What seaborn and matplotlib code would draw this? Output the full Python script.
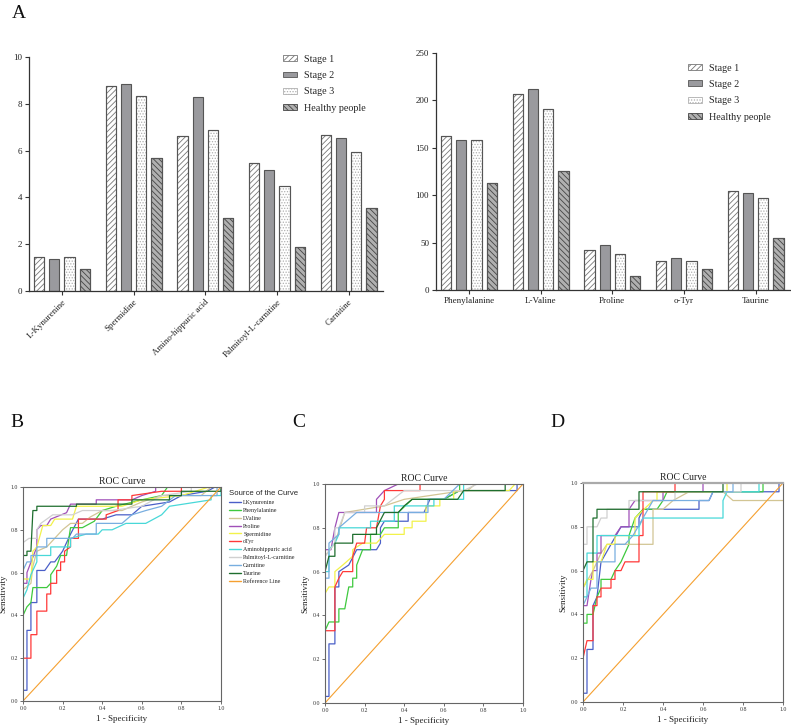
import numpy as np
import pandas as pd
import matplotlib
matplotlib.use("Agg")
import matplotlib.pyplot as plt
import matplotlib.patches as mpatches
import matplotlib.lines as mlines
import seaborn as sns

# ---------------- data: panel A ----------------
groups = ["Stage 1", "Stage 2", "Stage 3", "Healthy people"]
left_metabolites = ["L-Kynurenine", "Spermidine", "Amino-hippuric acid",
                    "Palmitoyl-L-carnitine", "Carnitine"]
left_stage1 = [1.45, 8.78, 6.62, 5.45, 6.65]
left_stage2 = [1.38, 8.83, 8.28, 5.15, 6.55]
left_stage3 = [1.47, 8.35, 6.88, 4.48, 5.92]
left_healthy = [0.93, 5.67, 3.10, 1.86, 3.55]
left_yticks = [0, 2, 4, 6, 8, 10]

right_metabolites = ["Phenylalanine", "L-Valine", "Proline", "o-Tyr", "Taurine"]
right_stage1 = [162, 207, 42, 31, 104]
right_stage2 = [158, 212, 47, 34, 102]
right_stage3 = [158, 191, 38, 31, 97]
right_healthy = [113, 126, 15, 22, 55]
right_yticks = [0, 50, 100, 150, 200, 250]

# ---------------- data: ROC curves (1-specificity, sensitivity) ----------------
curve_names = ["LKynurenine", "Phenylalanine", "LValine", "Proline", "Spermidine",
               "oTyr", "Aminohippuric acid", "Palmitoyl-L-carnitine", "Carnitine", "Taurine"]
roc_ticks = [0.0, 0.2, 0.4, 0.6, 0.8, 1.0]

# Panel B
B_KYN = [(0,0),(0,0.05),(0.02,0.05),(0.02,0.33),(0.04,0.33),(0.04,0.46),(0.07,0.46),(0.07,0.61),(0.11,0.61),(0.14,0.65),(0.16,0.65),(0.2,0.7),(0.24,0.78),(0.28,0.85),(0.4,0.85),(0.47,0.87),(0.55,0.87),(0.6,0.91),(0.74,0.93),(0.8,0.96),(0.93,0.98),(0.97,1),(1,1)]
B_PHE = [(0,0),(0,0.4),(0.02,0.44),(0.04,0.46),(0.05,0.53),(0.12,0.53),(0.14,0.55),(0.14,0.59),(0.17,0.63),(0.19,0.68),(0.22,0.68),(0.23,0.75),(0.24,0.81),(0.3,0.81),(0.36,0.84),(0.4,0.89),(0.47,0.91),(0.6,0.94),(0.7,0.96),(0.73,1),(1,1)]
B_VAL = [(0,0),(0,0.52),(0.04,0.55),(0.05,0.63),(0.07,0.70),(0.12,0.72),(0.14,0.74),(0.2,0.8),(0.24,0.83),(0.3,0.83),(0.34,0.86),(0.4,0.89),(0.5,0.89),(0.6,0.93),(0.7,0.96),(0.9,0.96),(0.95,1),(1,1)]
B_PRO = [(0,0),(0,0.55),(0.02,0.55),(0.02,0.6),(0.07,0.72),(0.07,0.8),(0.09,0.82),(0.12,0.82),(0.14,0.85),(0.22,0.88),(0.24,0.92),(0.37,0.92),(0.37,0.94),(0.55,0.94),(0.6,0.96),(0.67,0.98),(0.67,1),(1,1)]
B_SPE = [(0,0),(0,0.57),(0.04,0.57),(0.05,0.70),(0.07,0.72),(0.1,0.82),(0.14,0.82),(0.16,0.85),(0.25,0.85),(0.27,0.91),(0.5,0.91),(0.6,0.94),(0.8,0.96),(0.87,0.98),(0.94,1),(1,1)]
B_TYR = [(0,0),(0,0.2),(0.04,0.2),(0.04,0.31),(0.07,0.31),(0.07,0.42),(0.12,0.42),(0.12,0.5),(0.14,0.5),(0.14,0.55),(0.17,0.55),(0.17,0.61),(0.19,0.61),(0.19,0.65),(0.21,0.65),(0.21,0.7),(0.24,0.72),(0.24,0.76),(0.28,0.76),(0.28,0.85),(0.42,0.85),(0.42,0.87),(0.48,0.89),(0.48,0.94),(0.55,0.94),(0.55,0.96),(0.7,0.98),(0.8,0.98),(0.8,1),(1,1)]
B_AMI = [(0,0),(0,0.48),(0.02,0.52),(0.04,0.59),(0.07,0.65),(0.07,0.68),(0.14,0.68),(0.14,0.72),(0.24,0.72),(0.24,0.76),(0.32,0.78),(0.38,0.78),(0.4,0.8),(0.45,0.8),(0.52,0.83),(0.62,0.83),(0.7,0.87),(0.74,0.91),(0.95,0.94),(0.95,0.96),(1,0.96),(1,1)]
B_PAL = [(0,0),(0,0.74),(0.03,0.76),(0.07,0.76),(0.07,0.80),(0.09,0.83),(0.12,0.85),(0.15,0.87),(0.25,0.87),(0.3,0.89),(0.45,0.89),(0.6,0.91),(0.7,0.96),(0.85,0.98),(0.85,1),(1,1)]
B_CAR = [(0,0),(0,0.61),(0.02,0.65),(0.04,0.65),(0.04,0.68),(0.07,0.68),(0.07,0.72),(0.12,0.72),(0.12,0.76),(0.25,0.76),(0.27,0.78),(0.37,0.78),(0.37,0.83),(0.5,0.83),(0.55,0.87),(0.62,0.89),(0.7,0.91),(0.77,0.96),(0.98,0.96),(0.98,1),(1,1)]
B_TAU = [(0,0),(0,0.68),(0.02,0.68),(0.02,0.70),(0.04,0.70),(0.05,0.89),(0.07,0.89),(0.07,0.91),(0.27,0.91),(0.27,0.92),(0.55,0.92),(0.55,0.94),(0.74,0.94),(0.74,0.96),(0.80,0.96),(0.80,0.98),(1,0.98),(1,1)]

# Panel C
C_KYN = [(0,0),(0,0.03),(0.02,0.03),(0.02,0.27),(0.05,0.27),(0.05,0.53),(0.07,0.53),(0.07,0.6),(0.12,0.63),(0.16,0.7),(0.26,0.7),(0.28,0.73),(0.28,0.8),(0.3,0.83),(0.42,0.83),(0.42,0.87),(0.5,0.87),(0.53,0.93),(0.6,0.93),(0.68,0.97),(0.97,0.97),(0.97,1),(1,1)]
C_PHE = [(0,0),(0,0.33),(0.02,0.37),(0.07,0.37),(0.07,0.43),(0.1,0.43),(0.12,0.53),(0.14,0.53),(0.14,0.57),(0.16,0.57),(0.16,0.63),(0.19,0.7),(0.23,0.7),(0.23,0.77),(0.28,0.77),(0.3,0.8),(0.37,0.8),(0.37,0.87),(0.44,0.93),(0.6,0.93),(0.68,0.97),(0.68,1),(1,1)]
C_VAL = [(0,0),(0,0.67),(0.05,0.73),(0.1,0.87),(0.3,0.9),(0.4,0.93),(0.7,0.97),(0.72,0.97),(0.76,1),(1,1)]
C_PRO = [(0,0),(0,0.70),(0.03,0.70),(0.05,0.80),(0.07,0.87),(0.12,0.87),(0.26,0.87),(0.26,0.93),(0.3,0.97),(0.37,1),(1,1)]
C_SPE = [(0,0),(0,0.5),(0.02,0.53),(0.05,0.53),(0.05,0.6),(0.09,0.63),(0.14,0.67),(0.14,0.7),(0.19,0.73),(0.26,0.73),(0.3,0.77),(0.4,0.77),(0.4,0.8),(0.44,0.8),(0.44,0.83),(0.51,0.83),(0.51,0.9),(0.58,0.9),(0.58,0.93),(0.65,0.93),(0.65,0.97),(0.93,0.97),(0.96,1),(1,1)]
C_TYR = [(0,0),(0,0.33),(0.05,0.33),(0.05,0.53),(0.07,0.57),(0.09,0.6),(0.14,0.6),(0.14,0.67),(0.16,0.73),(0.2,0.73),(0.21,0.8),(0.26,0.8),(0.28,0.9),(0.3,0.93),(0.3,0.97),(0.48,0.97),(0.48,1),(1,1)]
C_AMI = [(0,0),(0,0.6),(0.02,0.6),(0.02,0.7),(0.05,0.73),(0.07,0.77),(0.07,0.8),(0.23,0.8),(0.23,0.83),(0.35,0.83),(0.35,0.9),(0.55,0.9),(0.55,0.93),(0.7,0.93),(0.7,1),(1,1)]
C_PAL = [(0,0),(0,0.67),(0.05,0.73),(0.05,0.8),(0.07,0.8),(0.1,0.87),(0.2,0.87),(0.2,0.9),(0.3,0.9),(0.4,0.97),(0.7,0.97),(0.77,1),(1,1)]
C_CAR = [(0,0),(0,0.57),(0.02,0.57),(0.02,0.73),(0.07,0.77),(0.07,0.8),(0.16,0.87),(0.52,0.87),(0.52,0.93),(0.6,0.93),(0.68,1),(1,1)]
C_TAU = [(0,0),(0,0.6),(0.02,0.67),(0.05,0.67),(0.05,0.73),(0.14,0.73),(0.14,0.77),(0.26,0.77),(0.26,0.8),(0.3,0.87),(0.37,0.87),(0.4,0.9),(0.44,0.93),(0.67,0.93),(0.7,0.97),(0.91,0.97),(0.91,1),(1,1)]

# Panel D
D_KYN = [(0,0),(0,0.04),(0.02,0.04),(0.02,0.24),(0.05,0.24),(0.05,0.44),(0.07,0.48),(0.09,0.64),(0.14,0.72),(0.19,0.8),(0.28,0.8),(0.28,0.84),(0.3,0.88),(0.58,0.88),(0.58,0.92),(0.63,0.92),(0.65,0.96),(0.98,0.96),(0.98,1),(1,1)]
D_PHE = [(0,0),(0,0.36),(0.02,0.36),(0.02,0.40),(0.05,0.40),(0.07,0.48),(0.09,0.52),(0.09,0.56),(0.14,0.56),(0.16,0.6),(0.19,0.64),(0.21,0.68),(0.23,0.72),(0.23,0.76),(0.26,0.84),(0.3,0.88),(0.37,0.88),(0.4,0.92),(0.42,0.96),(0.9,0.96),(0.9,1),(1,1)]
D_VAL = [(0,0),(0,0.52),(0.05,0.6),(0.09,0.68),(0.12,0.72),(0.35,0.72),(0.35,0.88),(0.4,0.88),(0.45,0.92),(0.53,0.96),(0.7,0.96),(0.75,0.92),(1,0.92)]
D_PRO = [(0,0),(0,0.44),(0.02,0.44),(0.04,0.56),(0.05,0.6),(0.07,0.6),(0.07,0.68),(0.09,0.68),(0.09,0.76),(0.16,0.76),(0.19,0.8),(0.23,0.8),(0.23,0.88),(0.26,0.92),(0.4,0.92),(0.4,0.96),(0.6,0.96),(0.6,1),(1,1)]
D_SPE = [(0,0),(0,0.52),(0.02,0.56),(0.05,0.56),(0.05,0.64),(0.09,0.64),(0.12,0.72),(0.16,0.72),(0.16,0.76),(0.26,0.76),(0.26,0.84),(0.35,0.92),(0.37,0.92),(0.37,0.96),(0.72,0.96),(0.72,1),(1,1)]
D_TYR = [(0,0),(0,0.2),(0.02,0.28),(0.05,0.28),(0.05,0.44),(0.07,0.44),(0.07,0.48),(0.09,0.48),(0.09,0.52),(0.14,0.52),(0.14,0.56),(0.16,0.56),(0.16,0.6),(0.19,0.6),(0.21,0.64),(0.28,0.64),(0.28,0.76),(0.3,0.76),(0.3,0.96),(0.46,0.96),(0.46,1),(1,1)]
D_AMI = [(0,0),(0,0.48),(0.02,0.48),(0.02,0.68),(0.07,0.68),(0.07,0.76),(0.28,0.76),(0.28,0.80),(0.3,0.84),(0.7,0.84),(0.7,0.92),(0.72,0.96),(0.88,0.96),(0.88,1),(1,1)]
D_PAL = [(0,0),(0,0.72),(0.02,0.72),(0.02,0.8),(0.07,0.8),(0.09,0.84),(0.12,0.84),(0.12,0.88),(0.23,0.88),(0.23,0.92),(0.46,0.92),(0.46,0.96),(0.79,0.96),(0.79,1),(1,1)]
D_CAR = [(0,0),(0,0.44),(0.04,0.52),(0.07,0.52),(0.07,0.64),(0.16,0.64),(0.16,0.72),(0.21,0.72),(0.25,0.76),(0.3,0.84),(0.35,0.92),(0.63,0.92),(0.65,0.96),(0.75,0.96),(0.75,1),(1,1)]
D_TAU = [(0,0),(0,0.6),(0.02,0.64),(0.05,0.64),(0.05,0.84),(0.07,0.84),(0.07,0.88),(0.28,0.88),(0.28,0.96),(0.7,0.96),(0.7,1),(1,1)]

# ---------------- styles ----------------
curve_colors = ["#4a5fc8", "#3ec93e", "#d2c594", "#a050b8", "#f2f24a",
                "#ff3838", "#48d8d8", "#d0d0d0", "#78aee0", "#1e6e2e"]
ref_color = "#f5a030"
bar_fills = ["#ffffff", "#9a9a9e", "#ffffff", "#b0b0b0"]
bar_hatches = ["//////", "", "......", "\\\\\\\\\\\\"]
bar_hatch_colors = ["#777777", "#555555", "#b0b0b0", "#444444"]
edge = "#555555"

sns.set_style("ticks")
plt.rcParams["font.family"] = ["Liberation Serif", "DejaVu Serif"]
plt.rcParams["hatch.linewidth"] = 0.6

fig = plt.figure(figsize=(7.91, 7.28), dpi=100)
W, H = 791.0, 728.0


def ax_at(x0, y0, x1, y1):
    return fig.add_axes([x0 / W, 1 - y1 / H, (x1 - x0) / W, (y1 - y0) / H])


def bar_panel(ax, mets, s1, s2, s3, hl, yticks, rot):
    df = pd.DataFrame({
        "metabolite": mets * 4,
        "group": sum([[g] * len(mets) for g in groups], []),
        "value": list(s1) + list(s2) + list(s3) + list(hl),
    })
    sns.barplot(data=df, x="metabolite", y="value", hue="group", hue_order=groups,
                order=mets, width=0.85, gap=0.33, palette=bar_fills,
                edgecolor=edge, linewidth=0.8, legend=False, ax=ax, errorbar=None,
                saturation=1)
    for cont, h, hc, fc in zip(ax.containers, bar_hatches, bar_hatch_colors, bar_fills):
        for p in cont:
            p.set_facecolor(fc)
            if h:
                # hatch takes the patch edge colour; re-outline the bar in dark grey
                p.set_hatch(h)
                p.set_edgecolor(hc)
                ax.add_patch(mpatches.Rectangle((p.get_x(), p.get_y()), p.get_width(),
                                                p.get_height(), fill=False,
                                                edgecolor=edge, linewidth=0.8, zorder=p.get_zorder() + 0.1))
    ax.set_ylim(yticks[0], yticks[-1])
    ax.set_yticks(yticks)
    ax.set_xlim(-0.46, len(mets) - 1 + 0.48)
    ax.set_xlabel("")
    ax.set_ylabel("")
    sns.despine(ax=ax)
    for s in ["left", "bottom"]:
        ax.spines[s].set_color("#333333")
        ax.spines[s].set_linewidth(0.9)
    ax.tick_params(axis="both", labelsize=6.5, length=3, width=0.8, color="#333333",
                   labelcolor="#222222", pad=2)
    if rot:
        ax.set_xticks(range(len(mets)))
        ax.set_xticklabels(mets, rotation=45, ha="right", rotation_mode="anchor")
    handles = []
    for g, h, hc, fc in zip(groups, bar_hatches, bar_hatch_colors, bar_fills):
        handles.append(mpatches.Patch(facecolor=fc, edgecolor=(hc if h else edge), hatch=h,
                                      linewidth=0.6, label=g))
    return handles


axL = ax_at(29, 57, 383, 291)
hL = bar_panel(axL, left_metabolites, left_stage1, left_stage2, left_stage3,
               left_healthy, left_yticks, True)
axL.legend(handles=hL, loc="upper left", bbox_to_anchor=(0.698, 1.04),
           frameon=False, fontsize=7.3, handlelength=1.35, handleheight=0.5,
           labelspacing=0.72, handletextpad=0.75, borderpad=0.2)

axR = ax_at(436, 53, 790, 290)
hR = bar_panel(axR, right_metabolites, right_stage1, right_stage2, right_stage3,
               right_healthy, right_yticks, False)
axR.legend(handles=hR, loc="upper left", bbox_to_anchor=(0.692, 0.985),
           frameon=False, fontsize=7.3, handlelength=1.35, handleheight=0.5,
           labelspacing=0.72, handletextpad=0.75, borderpad=0.2)


def roc_panel(ax, curves):
    for pts, c in zip(curves, curve_colors):
        xs = [p[0] for p in pts]
        ys = [p[1] for p in pts]
        sns.lineplot(x=xs, y=ys, sort=False, estimator=None, color=c, lw=0.9, ax=ax)
    sns.lineplot(x=[0, 1], y=[0, 1], sort=False, estimator=None, color=ref_color,
                 lw=0.8, ax=ax)
    ax.set_xlim(0, 1)
    ax.set_ylim(0, 1)
    ax.set_xticks(roc_ticks)
    ax.set_yticks(roc_ticks)
    ax.set_xticklabels([f"{t:.1f}" for t in roc_ticks])
    ax.set_yticklabels([f"{t:.1f}" for t in roc_ticks])
    ax.tick_params(axis="both", labelsize=4.2, length=2, width=0.6, color="#555555",
                   pad=1.5, labelcolor="#333333")
    for s in ax.spines.values():
        s.set_visible(True)
        s.set_color("#666666")
        s.set_linewidth(0.8)
    ax.set_title("ROC Curve", fontsize=7, pad=2, color="#222222")
    ax.set_xlabel("1 - Specificity", fontsize=6.5, labelpad=3, color="#222222")
    ax.set_ylabel("Sensitivity", fontsize=6.5, labelpad=2, color="#222222")


axB = ax_at(23, 487, 221, 701)
roc_panel(axB, [B_KYN, B_PHE, B_VAL, B_PRO, B_SPE, B_TYR, B_AMI, B_PAL, B_CAR, B_TAU])
axC = ax_at(325, 484, 523, 703)
roc_panel(axC, [C_KYN, C_PHE, C_VAL, C_PRO, C_SPE, C_TYR, C_AMI, C_PAL, C_CAR, C_TAU])
axD = ax_at(583, 483, 783, 702)
roc_panel(axD, [D_KYN, D_PHE, D_VAL, D_PRO, D_SPE, D_TYR, D_AMI, D_PAL, D_CAR, D_TAU])
axD.spines["top"].set_color("#aaaaaa")
axD.spines["top"].set_linewidth(1.6)

leg_handles = [mlines.Line2D([], [], color=c, lw=1.0, label=n)
               for n, c in zip(curve_names, curve_colors)]
leg_handles.append(mlines.Line2D([], [], color=ref_color, lw=1.0, label="Reference Line"))
leg = fig.legend(handles=leg_handles, loc="upper left",
                 bbox_to_anchor=(225 / W, 1 - 486 / H), frameon=False,
                 fontsize=4.3, title="Source of the Curve", handlelength=1.9,
                 handletextpad=0.45, labelspacing=0.45, borderpad=0.2)
leg.get_title().set_fontsize(5.6)
leg.get_title().set_family(["Liberation Sans", "DejaVu Sans"])
leg._legend_box.align = "left"

for lab, x, y in [("A", 12, 18), ("B", 10, 427), ("C", 292, 427), ("D", 550, 427)]:
    fig.text(x / W, 1 - y / H, lab, fontsize=14, va="baseline", ha="left",
             color="#111111")

fig.savefig("out.png", dpi=100)
